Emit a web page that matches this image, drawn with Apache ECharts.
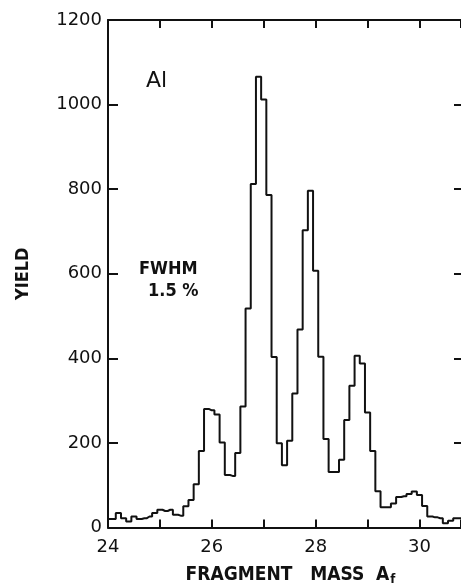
<!DOCTYPE html>
<html>
<head>
<meta charset="utf-8">
<script src="https://cdn.jsdelivr.net/npm/echarts@6/dist/echarts.min.js"></script>
<style>
  html, body { margin: 0; padding: 0; background: #fff; }
  #chart { width: 461px; height: 587px; }
</style>
</head>
<body>
<div id="chart"></div>
<script>
// Fragment-mass spectrum for Al: counts per 0.1-mass-unit bin (bin centres below).
const BIN_CENTRES = [
  24.0, 24.1, 24.2, 24.3, 24.4, 24.5, 24.6, 24.7, 24.8, 24.9,
  25.0, 25.1, 25.2, 25.3, 25.4, 25.5, 25.6, 25.7, 25.8, 25.9,
  26.0, 26.1, 26.2, 26.3, 26.4, 26.5, 26.6, 26.7, 26.8, 26.9,
  27.0, 27.1, 27.2, 27.3, 27.4, 27.5, 27.6, 27.7, 27.8, 27.9,
  28.0, 28.1, 28.2, 28.3, 28.4, 28.5, 28.6, 28.7, 28.8, 28.9,
  29.0, 29.1, 29.2, 29.3, 29.4, 29.5, 29.6, 29.7, 29.8, 29.9,
  30.0, 30.1, 30.2, 30.3, 30.4, 30.5, 30.6, 30.7, 30.8
];
const YIELDS = [
  20, 20, 34, 22, 14, 26, 20, 22, 26, 34,
  42, 39, 42, 30, 28, 50, 65, 102, 181, 280,
  277, 267, 201, 124, 122, 176, 286, 518, 812, 1066,
  1012, 786, 403, 199, 147, 205, 317, 468, 703, 796,
  607, 404, 209, 131, 131, 160, 254, 335, 406, 388,
  272, 181, 86, 48, 48, 57, 72, 74, 79, 85,
  77, 51, 26, 24, 22, 10, 16, 22, 22
];
const MASS_LABELS = [24, 26, 28, 30];
const YIELD_TICKS = [0, 200, 400, 600, 800, 1000, 1200];

const FONT = 'DejaVu Sans';
const FONT_COND = '"DejaVu Sans Condensed", "DejaVu Sans"';
const INK = '#111';

const chart = echarts.init(document.getElementById('chart'), null, { renderer: 'canvas' });

const massAxisBase = {
  type: 'value',
  min: 24,
  max: 30.8,
  interval: 1,
  splitLine: { show: false },
  axisLine: { show: true, onZero: false, lineStyle: { color: INK, width: 2 } },
  axisTick: { show: true, inside: true, length: 8, lineStyle: { color: INK, width: 2 } }
};
const yieldAxisBase = {
  type: 'value',
  min: YIELD_TICKS[0],
  max: YIELD_TICKS[YIELD_TICKS.length - 1],
  interval: YIELD_TICKS[1] - YIELD_TICKS[0],
  splitLine: { show: false }
};

chart.setOption({
  backgroundColor: '#fff',
  animation: false,
  grid: {
    left: 108, right: 0, top: 20, bottom: 59.5,
    containLabel: false,
    outerBoundsMode: 'none'
  },
  xAxis: [
    Object.assign({}, massAxisBase, {
      position: 'bottom',
      axisLabel: {
        color: INK, fontFamily: FONT, fontSize: 18, margin: 11,
        formatter: v => (MASS_LABELS.indexOf(Math.round(v * 10) / 10) >= 0 ? String(v) : '')
      },
      name: 'FRAGMENT   MASS  A{sub|f}',
      nameLocation: 'middle',
      nameGap: 37,
      nameTextStyle: {
        color: INK, fontFamily: FONT_COND, fontSize: 19, fontWeight: 'bold',
        padding: [0, 0, 0, 12],
        rich: { sub: { fontFamily: FONT_COND, fontWeight: 'bold', fontSize: 13, color: INK, padding: [9, 0, 0, 1] } }
      }
    }),
    Object.assign({}, massAxisBase, {
      position: 'top',
      axisLabel: { show: false }
    })
  ],
  yAxis: [
    Object.assign({}, yieldAxisBase, {
      position: 'left',
      axisLine: { show: true, onZero: false, lineStyle: { color: INK, width: 2 } },
      axisTick: { show: true, inside: true, length: 10, lineStyle: { color: INK, width: 2 } },
      axisLabel: { color: INK, fontFamily: FONT, fontSize: 18, margin: 6, formatter: v => String(v) },
      name: 'YIELD',
      nameLocation: 'middle',
      nameRotate: 90,
      nameGap: 76,
      nameTextStyle: { color: INK, fontFamily: FONT_COND, fontSize: 18, fontWeight: 'bold' }
    }),
    Object.assign({}, yieldAxisBase, {
      position: 'right',
      axisLine: { show: false },
      axisTick: { show: true, inside: true, length: 7, lineStyle: { color: INK, width: 2 } },
      axisLabel: { show: false }
    })
  ],
  series: [{
    type: 'line',
    xAxisIndex: 0,
    yAxisIndex: 0,
    step: 'middle',
    symbol: 'none',
    clip: true,
    lineStyle: { color: INK, width: 2 },
    data: BIN_CENTRES.map((c, i) => [c, YIELDS[i]])
  }],
  graphic: [
    { type: 'text', left: 146, top: 70, style: { text: 'Al', font: '22px "DejaVu Sans"', fill: INK } },
    { type: 'text', left: 139, top: 260, style: { text: 'FWHM', font: 'bold 18px "DejaVu Sans Condensed", "DejaVu Sans"', fill: INK } },
    { type: 'text', left: 148, top: 282, style: { text: '1.5 %', font: 'bold 18px "DejaVu Sans Condensed", "DejaVu Sans"', fill: INK } }
  ]
});
</script>
</body>
</html>
